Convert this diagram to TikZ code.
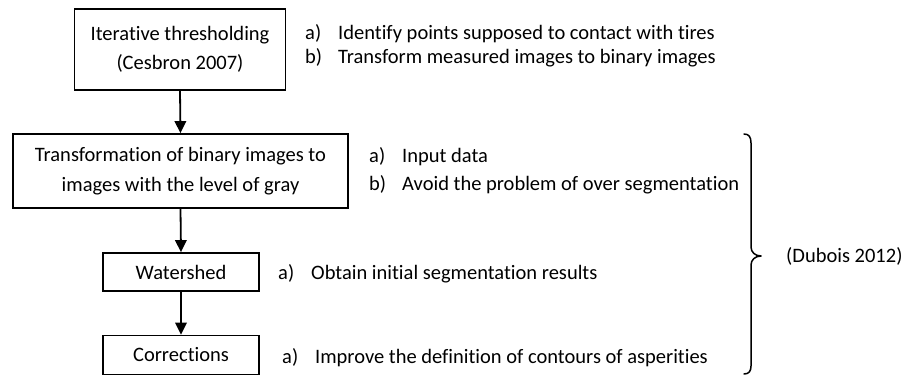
\documentclass[tikz,border=0pt]{standalone}
\usepackage{fontspec}
\setmainfont{Carlito}[Ligatures=NoCommon]
\usetikzlibrary{arrows.meta}
\begin{document}
\begin{tikzpicture}[x=1pt,y=-1pt,
 box/.style={draw,line width=1.8pt,align=center,inner sep=0pt,font=\fontsize{20.5}{29.5}\selectfont},
 lbl/.style={anchor=west,inner sep=0pt,text height=14pt,text depth=4.5pt,font=\fontsize{20.5}{24}\selectfont},
 arr/.style={line width=1.8pt,-{Triangle[length=12pt,width=11.5pt]}},
 brc/.style={line width=1.5pt,line cap=round,line join=round}]
\useasboundingbox (0,0) rectangle (903,376);
\newcommand{\itm}[1]{\makebox[33pt][l]{#1}}
\node[box,minimum width=211pt,minimum height=81pt] (b1) at (180,49.5) {Iterative thresholding\\(Cesbron 2007)};
\node[box,minimum width=335pt,minimum height=74pt] (b2) at (180.5,171) {Transformation of binary images to\\images with the level of gray};
\node[box,minimum width=156pt,minimum height=38pt] (b3) at (181,272) {Watershed};
\node[box,minimum width=156pt,minimum height=39pt] (b4) at (181,355) {Corrections};
\draw[arr] (b1.south) -- (b2.north);
\draw[arr] (b2.south) -- (b3.north);
\draw[arr] (b3.south) -- (b4.north);
\node[lbl] (l1a) at (305,34.5) {\itm{a)}Identify points supposed to contact with tires};
\node[lbl] (l1b) at (305,58.5) {\itm{b)}Transform measured images to binary images};
\node[lbl] (l2a) at (369,157.5) {\itm{a)}Input data};
\node[lbl] (l2b) at (369,185.5) {\itm{b)}Avoid the problem of over segmentation};
\node[lbl] (l3a) at (278,274.5) {\itm{a)}Obtain initial segmentation results};
\node[lbl] (l4a) at (282,358.5) {\itm{a)}Improve the definition of contours of asperities};
\coordinate (bt) at (744,134);
\coordinate (tip) at (761,256);
\coordinate (bb) at (744,374);
\draw[brc] (bt) .. controls (749,134) and (751,137) .. (751,143) -- (751,247)
  .. controls (751,252) and (755,256) .. (tip)
  .. controls (755,256) and (751,260) .. (751,265) -- (751,366)
  .. controls (751,371) and (749,374) .. (bb);
\node[lbl] (dub) at (786,258) {(Dubois 2012)};
\end{tikzpicture}
\end{document}
